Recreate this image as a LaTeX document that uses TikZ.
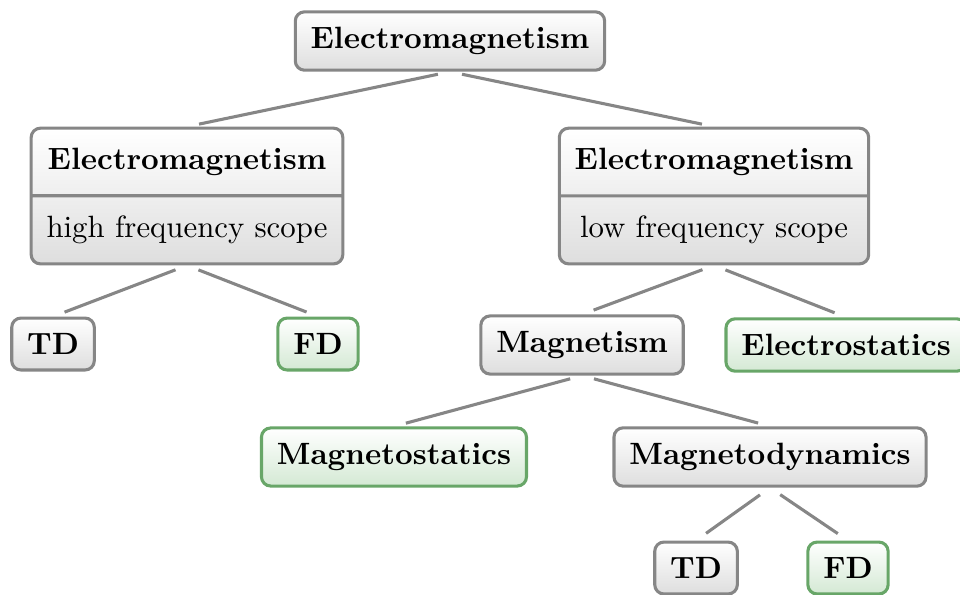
\documentclass[tikz,border=0pt]{standalone}
\usetikzlibrary{shapes.multipart}
\definecolor{boxgray}{RGB}{134,134,134}
\definecolor{stemfill}{RGB}{222,222,222}
\definecolor{leafgreen}{RGB}{104,166,104}
\definecolor{leaffill}{RGB}{212,233,212}
\tikzset{
  box/.style={draw=boxgray, line width=1pt, rounded corners=3pt, top color=white, bottom color=stemfill, inner sep=5pt, font=\bfseries},
  leaf/.style={box, draw=leafgreen, bottom color=leaffill},
  splitbox/.style={box, rectangle split, rectangle split parts=2, inner ysep=6pt},
  link/.style={draw=boxgray, line width=1pt, shorten <=4pt, shorten >=4pt}
}
\begin{document}
\begin{tikzpicture}
        \useasboundingbox (0, 0) rectangle (10.955, -6.779);
        \node[box] (EM) at (5.135, -0.468) {Electromagnetism};
        \node[splitbox] (EMhigh) at (2.134, -2.237) {Electromagnetism \nodepart{two} \normalfont high frequency scope};
        \node[splitbox] (EMlow) at (8.148, -2.237) {Electromagnetism \nodepart{two} \normalfont low frequency scope};
        \node[box] (TDhigh) at (0.605, -3.926) {TD};
        \node[leaf] (FDhigh) at (3.629, -3.926) {FD};
        \node[box] (Mag) at (6.642, -3.937) {Magnetism};
        \node[leaf] (Estat) at (9.655, -3.937) {Electrostatics};
        \node[leaf] (Mstat) at (4.496, -5.215) {Magnetostatics};
        \node[box] (Mdyn) at (8.787, -5.215) {Magnetodynamics};
        \node[box] (TDlow) at (7.943, -6.482) {TD};
        \node[leaf] (FDlow) at (9.677, -6.482) {FD};
        \draw[link] (EM.south) -- (EMhigh.north);
        \draw[link] (EM.south) -- (EMlow.north);
        \draw[link] (EMhigh.south) -- (TDhigh.north);
        \draw[link] (EMhigh.south) -- (FDhigh.north);
        \draw[link] (EMlow.south) -- (Mag.north);
        \draw[link] (EMlow.south) -- (Estat.north);
        \draw[link] (Mag.south) -- (Mstat.north);
        \draw[link] (Mag.south) -- (Mdyn.north);
        \draw[link] (Mdyn.south) -- (TDlow.north);
        \draw[link] (Mdyn.south) -- (FDlow.north);
    \end{tikzpicture}
\end{document}
